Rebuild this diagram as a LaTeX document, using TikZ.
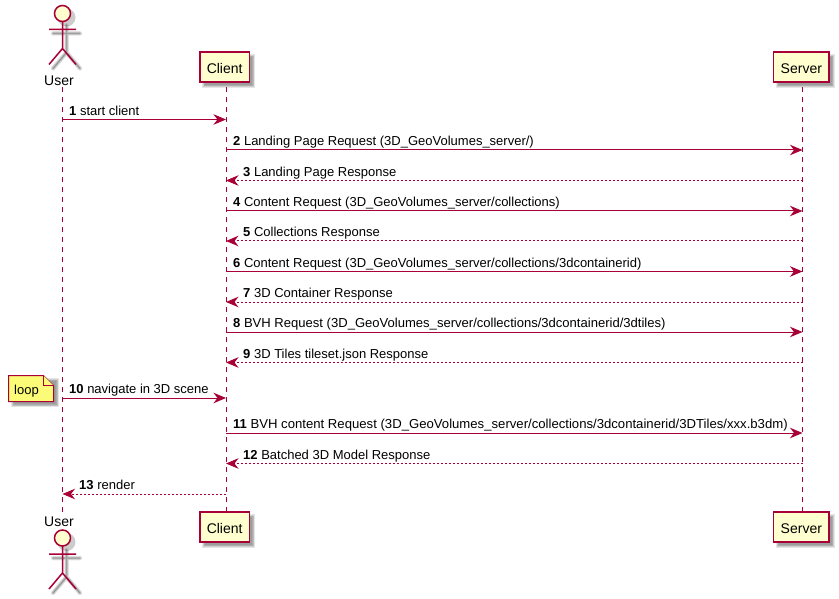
\documentclass[tikz,border=0pt]{standalone}
\usepackage{fontspec}
\usepackage{graphicx}
\setmainfont{Liberation Sans}
\usetikzlibrary{arrows.meta}
\definecolor{puline}{HTML}{A80036}
\definecolor{pufill}{HTML}{FEFECE}
\definecolor{punote}{HTML}{FBFB77}
\tikzset{
  lifeline/.style={draw=puline,line width=1pt,dash pattern=on 5pt off 5pt},
  shape box/.style={draw=puline,fill=pufill,line width=1.7pt},
  actorline/.style={draw=puline,line width=1.5pt},
  callmsg/.style={draw=puline,line width=1pt,-{Stealth[length=12.5pt,width=10.5pt,inset=4pt,fill=puline]}},
  retmsg/.style={draw=puline,line width=1pt,dash pattern=on 2pt off 2pt,-{Stealth[length=12.5pt,width=10.5pt,inset=4pt,fill=puline,sep=0pt]}},
  msglabel/.style={anchor=base west,inner sep=0pt,font=\fontsize{13}{15}\selectfont},
  partlabel/.style={inner sep=0pt,font=\fontsize{14}{16}\selectfont,text=black}
}
% soft shadow of a rectangle: x0,y0,x1,y1
\newcommand{\softrect}[4]{%
  \foreach \g in {0,0.7,1.4,2.1,2.8}{%
    \fill[black!70,opacity=0.14] ({#1+4+\g-1.4},{#2+4+\g-1.4}) rectangle ({#3+4-\g+1.4},{#4+4-\g+1.4});}}
\newcommand{\softpath}[1]{%
  \foreach \g/\w in {4.5/0.10,3/0.12,1.5/0.14,0.4/0.2}{%
    \draw[black,opacity=\w,line width=\g pt,line cap=round,line join=round,shift={(4,4)}] #1;}}
\newcommand{\actorfig}[2]{% cx, top of head centre
  \softpath{(#1-13.5,#2+16) -- (#1+13.5,#2+16) (#1,#2+8) -- (#1,#2+35) (#1-13.5,#2+51) -- (#1,#2+35) -- (#1+13.5,#2+51)}
  \fill[black,opacity=0.2] (#1+4,#2+4) circle (9pt);
  \draw[actorline,fill=pufill] (#1,#2) circle (8pt);
  \draw[actorline] (#1-13.5,#2+16) -- (#1+13.5,#2+16) (#1,#2+8) -- (#1,#2+35) (#1-13.5,#2+51) -- (#1,#2+35) -- (#1+13.5,#2+51);
}
\newcommand{\participant}[6]{% name, x0,y0,x1,y1, label
  \softrect{#2}{#3}{#4}{#5}
  \node[shape box,minimum width={(#4-#2)*1pt},minimum height={(#5-#3)*1pt},inner sep=0pt,partlabel,text height=12.4pt,text depth=0pt] (#1) at ({(#2+#4)/2},{(#3+#5)/2}) {#6};
}
% msg: number, y, from-x, to-x, style, label x, text
\newcommand{\msg}[7]{%
  \coordinate (from#1) at (#3,#2);
  \coordinate (to#1) at (#4,#2);
  \draw[#5] (from#1) -- (to#1);
  \node[msglabel] (label#1) at (#6,#2-4.2) {\textbf{#1} #7};
}
\begin{document}
\begin{tikzpicture}[x=1pt,y=-1pt]
\useasboundingbox (0,0) rectangle (839,599);
\fill[white] (0,0) rectangle (839,599);
% lifelines
\coordinate (usertop) at (62.5,87);
\coordinate (userbot) at (62.5,512);
\coordinate (clienttop) at (226,87);
\coordinate (clientbot) at (226,512);
\coordinate (servertop) at (802.5,87);
\coordinate (serverbot) at (802.5,512);
\draw[lifeline] (usertop) -- (userbot);
\draw[lifeline] (clienttop) -- (clientbot);
\draw[lifeline] (servertop) -- (serverbot);
% actors
\actorfig{62.5}{13.5}
\node[partlabel] (usertoplabel) at (59,80.7) {User};
\actorfig{62.5}{538}
\node[partlabel] (userbotlabel) at (59,521.7) {User};
% participants
\participant{clienta}{199.7}{51.7}{249.6}{82.3}{Client}
\participant{servera}{773.4}{51.7}{829.3}{82.3}{Server}
\participant{clientb}{199.7}{511.7}{249.6}{542.3}{Client}
\participant{serverb}{773.4}{511.7}{829.3}{542.3}{Server}
% messages
\msg{1}{119.5}{62.5}{226}{callmsg}{69}{start client}
\msg{2}{150}{226}{802.5}{callmsg}{233}{Landing Page Request (3D\_GeoVolumes\_server/)}
\msg{3}{180.5}{802.5}{226}{retmsg}{243}{Landing Page Response}
\msg{4}{211}{226}{802.5}{callmsg}{233}{Content Request (3D\_GeoVolumes\_server/collections)}
\msg{5}{241}{802.5}{226}{retmsg}{243}{Collections Response}
\msg{6}{271.5}{226}{802.5}{callmsg}{233}{Content Request (3D\_GeoVolumes\_server/collections/3dcontainerid)}
\msg{7}{302}{802.5}{226}{retmsg}{243}{3D Container Response}
\msg{8}{332}{226}{802.5}{callmsg}{233}{\scalebox{1.004}[1]{BVH Request (3D\_GeoVolumes\_server/collections/3dcontainerid/3dtiles)}}
\msg{9}{362.5}{802.5}{226}{retmsg}{243}{3D Tiles tileset.json Response}
\msg{10}{398}{62.5}{226}{callmsg}{69}{navigate in 3D scene}
\msg{11}{433}{226}{802.5}{callmsg}{233}{\scalebox{1.011}[1]{BVH content Request (3D\_GeoVolumes\_server/collections/3dcontainerid/3DTiles/xxx.b3dm)}}
\msg{12}{463.5}{802.5}{226}{retmsg}{243}{Batched 3D Model Response}
\msg{13}{494}{226}{62.5}{retmsg}{79}{render}
% note
\foreach \g in {0,0.7,1.4,2.1,2.8}{%
  \fill[black!70,opacity=0.14] ({8.5+4+\g-1.4},{375.5+4+\g-1.4}) rectangle ({53.5+4-\g+1.4},{401.5+4-\g+1.4});}
\draw[draw=puline,fill=punote,line width=1pt,line join=miter] (8.5,375.5) -- (43.5,375.5) -- (53.5,385.5) -- (53.5,401.5) -- (8.5,401.5) -- cycle;
\draw[draw=puline,line width=1pt,fill=punote] (43.5,375.5) -- (43.5,385.5) -- (53.5,385.5);
\node[msglabel] (noteloop) at (14,394.2) {loop};
\end{tikzpicture}
\end{document}
